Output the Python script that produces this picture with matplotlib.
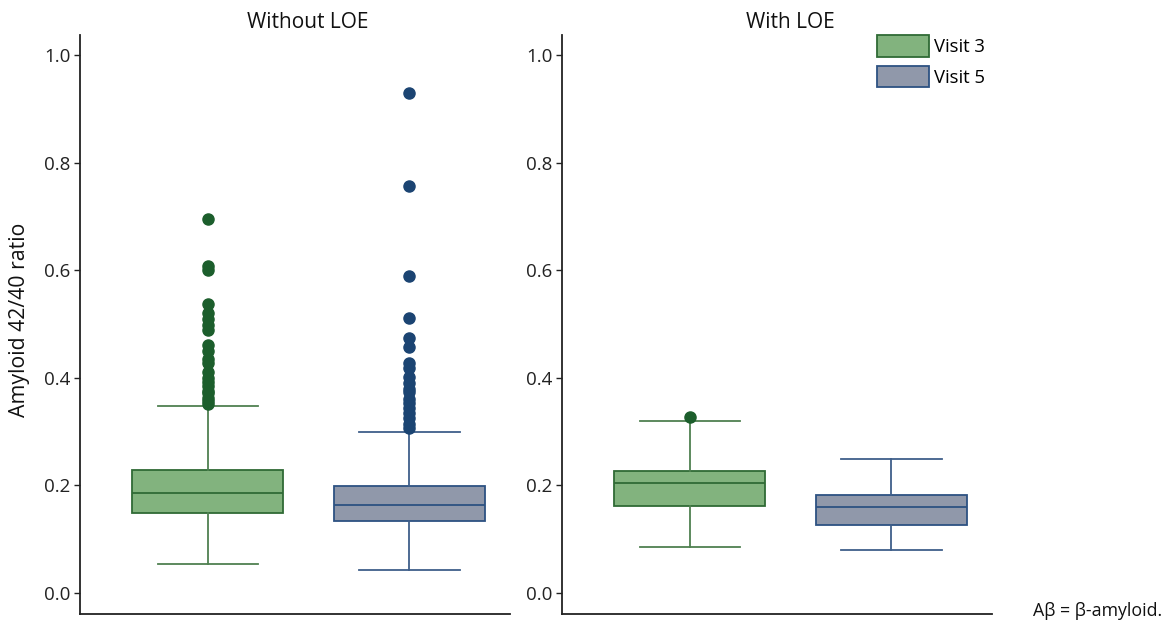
import matplotlib
matplotlib.use("Agg")
import matplotlib.pyplot as plt
from matplotlib.patches import Patch

plt.rcParams['font.family'] = ['Open Sans', 'DejaVu Sans']

panels = ["Without LOE", "With LOE"]
groups = ["Visit 3", "Visit 5"]

# [whislo, q1, med, q3, whishi]
stats_without = {
    "Visit 3": [0.053, 0.149, 0.185, 0.229, 0.347],
    "Visit 5": [0.042, 0.133, 0.164, 0.199, 0.300],
}
stats_with = {
    "Visit 3": [0.085, 0.162, 0.204, 0.227, 0.320],
    "Visit 5": [0.080, 0.126, 0.160, 0.182, 0.249],
}
fliers_without = {
    "Visit 3": [0.695, 0.607, 0.601, 0.537, 0.520, 0.510, 0.498, 0.489, 0.460,
                0.449, 0.435, 0.427, 0.410, 0.400, 0.393, 0.384, 0.375, 0.371,
                0.362, 0.356, 0.351],
    "Visit 5": [0.929, 0.756, 0.589, 0.511, 0.473, 0.458, 0.428, 0.418, 0.402,
                0.390, 0.380, 0.374, 0.360, 0.353, 0.343, 0.334, 0.325, 0.315,
                0.306],
}
fliers_with = {
    "Visit 3": [0.328],
    "Visit 5": [],
}

yticks = [0.0, 0.2, 0.4, 0.6, 0.8, 1.0]

fill = {"Visit 3": "#82b37e", "Visit 5": "#9098aa"}
edge = {"Visit 3": "#2f6a35", "Visit 5": "#2d5282"}
whisk = {"Visit 3": "#4f8050", "Visit 5": "#3f5f8a"}
flierc = {"Visit 3": "#1c5e2c", "Visit 5": "#1b4472"}

fig = plt.figure(figsize=(11.65, 6.21), dpi=100)
W, H = 1165, 621
ax_l = fig.add_axes([80 / W, 1 - 614 / H, 430 / W, (614 - 35) / H])
ax_r = fig.add_axes([562 / W, 1 - 614 / H, 430 / W, (614 - 35) / H])

for ax, st, fl, title, tx in [(ax_l, stats_without, fliers_without, panels[0], 308),
                              (ax_r, stats_with, fliers_with, panels[1], 790)]:
    for i, g in enumerate(groups):
        lo, q1, med, q3, hi = st[g]
        d = dict(whislo=lo, q1=q1, med=med, q3=q3, whishi=hi, fliers=fl[g], label=g)
        ax.bxp([d], positions=[i + 1], widths=0.75, patch_artist=True,
               showfliers=True, capwidths=0.5,
               boxprops=dict(facecolor=fill[g], edgecolor=edge[g], linewidth=1.3),
               medianprops=dict(color=edge[g], linewidth=1.3),
               whiskerprops=dict(color=whisk[g], linewidth=1.3),
               capprops=dict(color=whisk[g], linewidth=1.3),
               flierprops=dict(marker='o', markerfacecolor=flierc[g],
                               markeredgecolor=flierc[g], markersize=8))
    ax.set_xlim(0.365, 2.5)
    ax.set_ylim(-0.039, 1.037)
    ax.set_yticks(yticks)
    ax.set_yticklabels([f"{v:.1f}" for v in yticks])
    ax.set_xticks([])
    for s in ["top", "right"]:
        ax.spines[s].set_visible(False)
    for s in ["left", "bottom"]:
        ax.spines[s].set_linewidth(1.3)
        ax.spines[s].set_color("#222222")
    ax.tick_params(axis='y', length=4, width=1.0, labelsize=13.5, colors="#222222",
                   labelcolor="#222222", pad=3)
    fig.text(tx / W, 1 - 22 / H, title, ha='center', va='center', fontsize=15,
             color="#111111")

fig.text(20 / W, 1 - 320 / H, "Amyloid 42/40 ratio", rotation=90, ha='center',
         va='center', fontsize=15.3, color="#111111")

handles = [Patch(facecolor=fill[g], edgecolor=edge[g], linewidth=1.3, label=g)
           for g in groups]
fig.legend(handles=handles, loc='upper left', bbox_to_anchor=(877 / W, 1 - 35 / H),
           frameon=False, fontsize=13.3, handlelength=2.8, handleheight=1.43,
           labelspacing=0.49, handletextpad=0.3, borderpad=0, borderaxespad=0)

fig.text(1162 / W, 1 - 611 / H, "Aβ = β-amyloid.", ha='right', va='center',
         fontsize=12.8, color="#111111")

fig.savefig("out.png", dpi=100)
